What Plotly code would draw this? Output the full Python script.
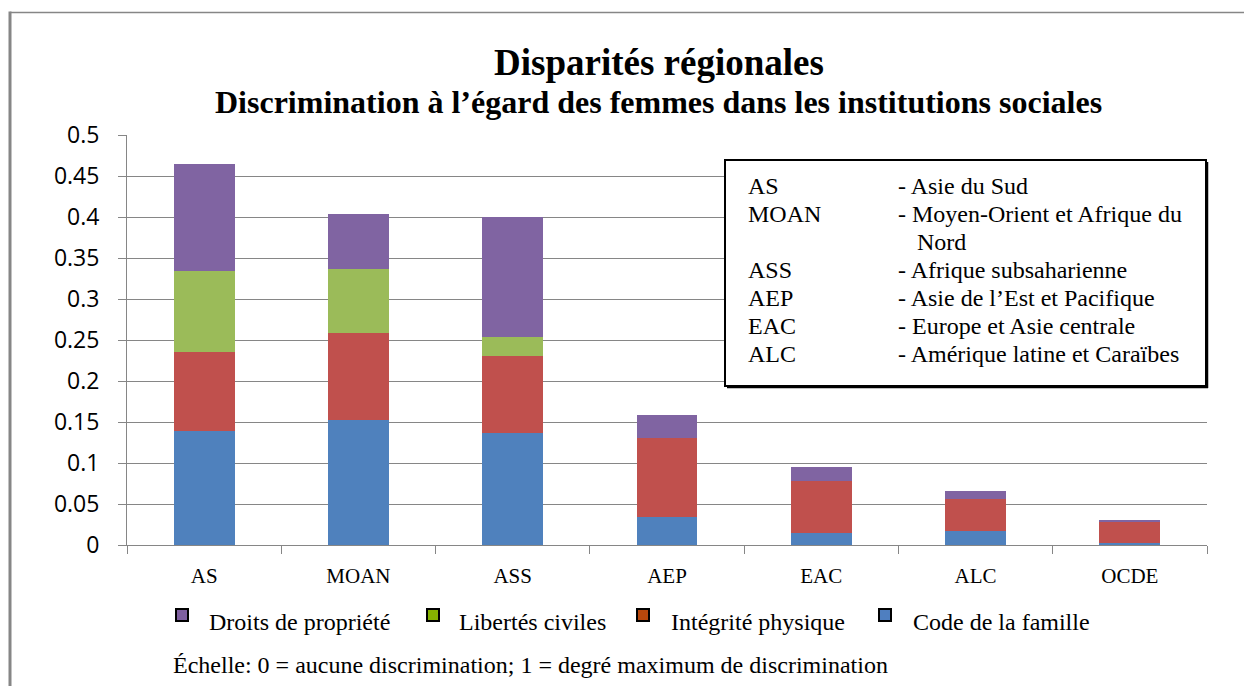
import plotly.graph_objects as go

categories = ["AS", "MOAN", "ASS", "AEP", "EAC", "ALC", "OCDE"]
code_famille = [0.139, 0.152, 0.137, 0.034, 0.015, 0.017, 0.0025]
integrite = [0.096, 0.107, 0.093, 0.097, 0.063, 0.039, 0.026]
libertes = [0.099, 0.078, 0.024, 0.0, 0.0, 0.0, 0.0]
droits = [0.131, 0.067, 0.146, 0.028, 0.017, 0.010, 0.0025]

series_names = ["Code de la famille", "Intégrité physique", "Libertés civiles", "Droits de propriété"]
y_ticks = [0, 0.05, 0.1, 0.15, 0.2, 0.25, 0.3, 0.35, 0.4, 0.45, 0.5]
y_ticktext = ["0", "0.05", "0.1", "0.15", "0.2", "0.25", "0.3", "0.35", "0.4", "0.45", "0.5"]

title = "Disparités régionales"
subtitle = "Discrimination à l’égard des femmes dans les institutions sociales"
footnote = "Échelle: 0 = aucune discrimination; 1 = degré maximum de discrimination"
abbr = ["AS", "MOAN", "", "ASS", "AEP", "EAC", "ALC"]
abbr_desc = ["- Asie du Sud", "- Moyen-Orient et Afrique du", "Nord", "- Afrique subsaharienne",
             "- Asie de l’Est et Pacifique", "- Europe et Asie centrale", "- Amérique latine et Caraïbes"]

W, H = 1244, 686
L, R, T, B = 127, 37, 135, 141
PW, PH = W - L - R, H - T - B

def px(x):
    return (x - L) / PW

def py(y):
    return (H - B - y) / PH

bar_colors = ["#4F81BD", "#C0504D", "#9BBB59", "#8064A2"]
legend_colors = ["#4F7FC0", "#B8470C", "#86B300", "#7F60A0"]
serif = "Liberation Serif"
grid = "#868686"

fig = go.Figure()
for name, vals, col in zip(series_names, [code_famille, integrite, libertes, droits], bar_colors):
    fig.add_trace(go.Bar(x=categories, y=vals, name=name, marker=dict(color=col, line=dict(width=0)),
                         showlegend=False))

fig.update_layout(
    width=W, height=H, barmode="stack", bargap=0.605,
    margin=dict(l=L, r=R, t=T, b=B, pad=0),
    paper_bgcolor="white", plot_bgcolor="white",
    xaxis=dict(type="category", showline=True, linecolor=grid, linewidth=1,
               ticks="outside", tickson="boundaries", ticklen=8, tickcolor=grid,
               ticklabelstandoff=12,
               showgrid=False, tickfont=dict(family=serif, size=21, color="black")),
    yaxis=dict(range=[0, 0.5], tickvals=y_ticks, ticktext=y_ticktext, showline=True,
               linecolor=grid, linewidth=1, ticks="outside", ticklen=8, tickcolor=grid,
               ticklabelstandoff=14,
               showgrid=True, gridcolor=grid, gridwidth=1, zeroline=False,
               tickfont=dict(family="Open Sans", size=23, color="black")),
)

ann = []
ann.append(dict(x=px(659), y=py(62), text="<b>" + title + "</b>", showarrow=False,
                xref="paper", yref="paper", font=dict(family=serif, size=37, color="black"),
                xanchor="center", yanchor="middle"))
ann.append(dict(x=px(658), y=py(102), text="<b>" + subtitle + "</b>", showarrow=False,
                xref="paper", yref="paper", font=dict(family=serif, size=32, color="black"),
                xanchor="center", yanchor="middle"))

# abbreviation box
row_y = [186, 214, 242, 270, 298, 326, 354]
for i, (a, d) in enumerate(zip(abbr, abbr_desc)):
    if a:
        ann.append(dict(x=px(746), y=py(row_y[i]), text=a, showarrow=False, xref="paper", yref="paper",
                        font=dict(family=serif, size=24, color="black"), xanchor="left", yanchor="middle"))
    dx = 915 if d == "Nord" else 896
    ann.append(dict(x=px(dx), y=py(row_y[i]), text=d, showarrow=False, xref="paper", yref="paper",
                    font=dict(family=serif, size=24, color="black"), xanchor="left", yanchor="middle"))

shapes = []
shapes.append(dict(type="rect", xref="paper", yref="paper", x0=px(725), x1=px(1206), y0=py(160), y1=py(386),
                   line=dict(color="black", width=2), fillcolor="white", layer="above"))
# slight shadow on right/bottom edges of the box
shapes.append(dict(type="line", xref="paper", yref="paper", x0=px(727), x1=px(1208), y0=py(387.5), y1=py(387.5),
                   line=dict(color="black", width=1.5), layer="above"))
shapes.append(dict(type="line", xref="paper", yref="paper", x0=px(1207.5), x1=px(1207.5), y0=py(162), y1=py(388),
                   line=dict(color="black", width=1.5), layer="above"))

# bottom legend
leg_items = [(176, 207, "Droits de propriété", legend_colors[3]),
             (427, 457, "Libertés civiles", legend_colors[2]),
             (637, 669, "Intégrité physique", legend_colors[1]),
             (879, 911, "Code de la famille", legend_colors[0])]
for x0, tx, txt, col in leg_items:
    shapes.append(dict(type="rect", xref="paper", yref="paper", x0=px(x0), x1=px(x0 + 12),
                       y0=py(609), y1=py(621), line=dict(color="black", width=2), fillcolor=col))
    ann.append(dict(x=px(tx), y=py(622), text=txt, showarrow=False, xref="paper", yref="paper",
                    font=dict(family=serif, size=24, color="black"), xanchor="left", yanchor="middle"))

ann.append(dict(x=px(171), y=py(665), text=footnote, showarrow=False, xref="paper", yref="paper",
                font=dict(family=serif, size=24, color="black"), xanchor="left", yanchor="middle"))

# outer frame lines
shapes.append(dict(type="line", xref="paper", yref="paper", x0=px(10), x1=px(1244), y0=py(12.5), y1=py(12.5),
                   line=dict(color=grid, width=1.5)))
shapes.append(dict(type="line", xref="paper", yref="paper", x0=px(10), x1=px(10), y0=py(11.5), y1=py(686),
                   line=dict(color=grid, width=3)))

fig.update_layout(annotations=ann, shapes=shapes)
fig.write_html("out.html", config={"displayModeBar": False},
               post_script="document.body.style.margin='0';")
